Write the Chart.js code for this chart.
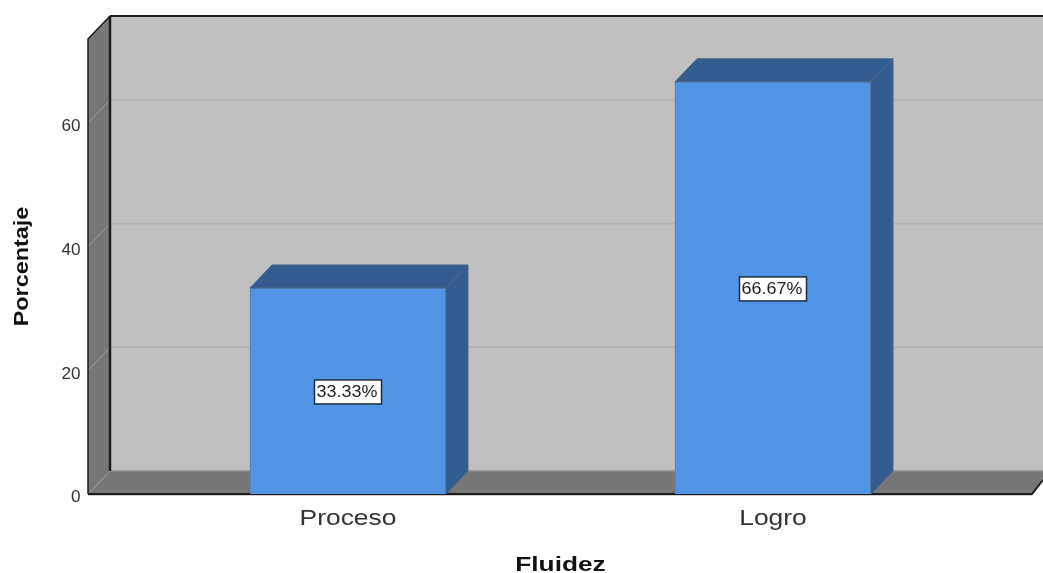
<!DOCTYPE html>
<html><head><meta charset="utf-8">
<style>html,body{margin:0;padding:0;background:#fff}canvas{display:block}</style>
<script src="https://cdn.jsdelivr.net/npm/chart.js@4"></script>
</head><body><canvas id="c" width="1043" height="573"></canvas>
<script>
const categories = ["Proceso", "Logro"];
const percentages = [33.33, 66.67];
const valueLabels = ["33.33%", "66.67%"];
const tickValues = [0, 20, 40, 60];
const axisMax = 73.6;
const depthX = 22, depthY = 23, wallPad = 47.5;
const sansFont = '"Liberation Sans", Arial, sans-serif';
const textStretch = { "Proceso": 1.2, "Logro": 1.2, "Fluidez": 1.25, "Porcentaje": 1.17, "33.33%": 1.12, "66.67%": 1.12, "0": 1.07, "20": 1.07, "40": 1.07, "60": 1.07 };

const frame3d = {
  id: 'frame3d',
  beforeDraw(chart) {
    const ctx = chart.ctx;
    if (ctx.__stretched) return;
    ctx.__stretched = true;
    const origFill = ctx.fillText.bind(ctx);
    ctx.fillText = (t, x, y) => {
      ctx.save(); ctx.translate(x, y); ctx.scale(textStretch[t] || 1, 1); origFill(t, 0, 0); ctx.restore();
    };
  },
  beforeDatasetsDraw(chart) {
    const {ctx, chartArea: a, scales: {y}} = chart;
    const L = a.left - wallPad, R = a.right + wallPad - 1, T = a.top, B = a.bottom, W = chart.width;
    const line = (pts, color, w) => {
      ctx.beginPath(); pts.forEach((p, i) => i ? ctx.lineTo(p[0], p[1]) : ctx.moveTo(p[0], p[1]));
      ctx.strokeStyle = color; ctx.lineWidth = w; ctx.stroke();
    };
    const fill = (pts, color) => {
      ctx.beginPath(); pts.forEach((p, i) => i ? ctx.lineTo(p[0], p[1]) : ctx.moveTo(p[0], p[1]));
      ctx.closePath(); ctx.fillStyle = color; ctx.fill();
    };
    ctx.save();
    fill([[L + depthX, T - depthY], [W, T - depthY], [W, B - depthY], [L + depthX, B - depthY]], '#c0c0c0');
    fill([[L, T], [L + depthX, T - depthY], [L + depthX, B - depthY], [L, B]], '#777777');
    fill([[L, B], [L + depthX, B - depthY], [W, B - depthY], [W, B - depthY + 9], [R, B]], '#777777');
    tickValues.slice(1).forEach(v => {
      const py = y.getPixelForValue(v);
      line([[L + depthX, py - depthY], [W, py - depthY]], '#b1b1b1', 1.5);
      line([[L, py], [L + depthX, py - depthY]], '#a0a0a0', 1);
    });
    line([[L + depthX, B - depthY], [W, B - depthY]], '#8c8c8c', 1.5);
    line([[L, B], [L + depthX, B - depthY]], '#9a9a9a', 1);
    line([[L + depthX, T - depthY], [W, T - depthY]], '#1c1c1c', 2);
    line([[L + depthX, B - depthY], [L + depthX, T - depthY]], '#1c1c1c', 2.5);
    line([[L, B], [L, T], [L + depthX, T - depthY]], '#1c1c1c', 1.5);
    line([[L, B + 1.5], [R, B + 1.5]], '#cfcfcf', 1);
    line([[L, B], [R, B], [W, B - depthY + 9]], '#1c1c1c', 2);
    ctx.restore();
  },
  afterDatasetsDraw(chart) {
    const {ctx} = chart;
    const bars = chart.getDatasetMeta(0).data;
    ctx.save();
    bars.forEach((bar, i) => {
      const l = bar.x - bar.width / 2, r = bar.x + bar.width / 2, t = bar.y, b = bar.base;
      ctx.fillStyle = '#335c90'; ctx.strokeStyle = '#4b6687'; ctx.lineWidth = 1;
      ctx.beginPath();
      ctx.moveTo(l, t); ctx.lineTo(l + depthX, t - depthY); ctx.lineTo(r + depthX, t - depthY); ctx.lineTo(r, t);
      ctx.closePath(); ctx.fill(); ctx.stroke();
      ctx.beginPath();
      ctx.moveTo(r, t); ctx.lineTo(r + depthX, t - depthY); ctx.lineTo(r + depthX, b - depthY); ctx.lineTo(r, b);
      ctx.closePath(); ctx.fill(); ctx.stroke();
      const cy = (t + b) / 2 + 1;
      ctx.font = '16px ' + sansFont;
      ctx.textAlign = 'center'; ctx.textBaseline = 'middle';
      const tw = 67, th = 24;
      ctx.fillStyle = '#ffffff'; ctx.fillRect(bar.x - tw / 2, cy - th / 2, tw, th);
      ctx.strokeStyle = '#1f2d3d'; ctx.lineWidth = 1.5; ctx.strokeRect(bar.x - tw / 2, cy - th / 2, tw, th);
      ctx.fillStyle = '#222222'; ctx.fillText(valueLabels[i], bar.x - 1, cy + 1);
    });
    ctx.restore();
  }
};

new Chart(document.getElementById('c'), {
  type: 'bar',
  data: { labels: categories, datasets: [{ data: percentages, backgroundColor: '#5294e6', borderColor: '#5a7ea8', borderWidth: 1, barThickness: 196 }] },
  plugins: [frame3d],
  options: {
    responsive: false, animation: false,
    layout: { padding: { top: 39, right: 57.5, bottom: 0, left: 0 } },
    plugins: { legend: { display: false }, tooltip: { enabled: false } },
    scales: {
      x: {
        grid: { display: false, drawTicks: false }, border: { display: false },
        afterFit: s => { s.height = 79; s.paddingTop = 0; s.paddingBottom = 0; s.paddingLeft = 0; s.paddingRight = 0; },
        ticks: { padding: 12, color: '#333333', font: { size: 22, family: sansFont } },
        title: { display: true, text: 'Fluidez', color: '#111111', padding: { top: 0, bottom: -5 }, font: { size: 21, weight: 'bold', family: sansFont } }
      },
      y: {
        min: 0, max: axisMax,
        afterFit: s => { s.width = 135.5; s.paddingTop = 0; s.paddingBottom = 0; },
        afterBuildTicks: s => { s.ticks = tickValues.map(v => ({ value: v })); },
        grid: { display: false, drawTicks: false }, border: { display: false },
        ticks: { padding: 55, labelOffset: 4, color: '#333333', font: { size: 16, family: sansFont } },
        title: { display: true, text: 'Porcentaje', color: '#111111', padding: { top: 10, bottom: 0 }, font: { size: 20, weight: 'bold', family: sansFont } }
      }
    }
  }
});
</script></body></html>
